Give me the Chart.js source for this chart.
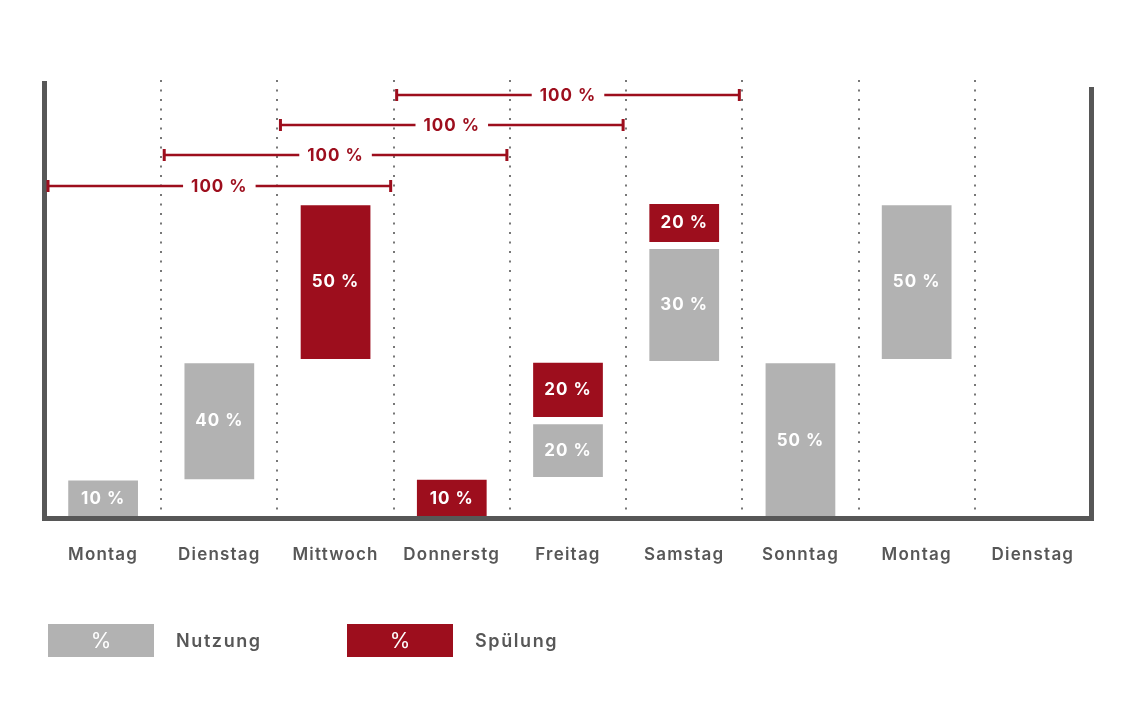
<!DOCTYPE html>
<html lang="de">
<head>
<meta charset="utf-8">
<title>Nutzung und Spülung</title>
<script src="https://cdn.jsdelivr.net/npm/chart.js@4.4.1/dist/chart.umd.min.js"></script>
<style>
  html, body { margin: 0; padding: 0; background: #fff; }
  #wrap { position: relative; width: 1140px; height: 708px; }
  #legende .eintrag { position: absolute; top: 624px; height: 33px; display: flex; align-items: center; font-family: Inter, sans-serif; }
  #legende .kasten { width: 106px; height: 33px; color: #fff; display: flex; align-items: center; justify-content: center; font-size: 21px; font-weight: 400; }
  #legende .text { margin-left: 22px; font-size: 18px; font-weight: 600; color: #575757; letter-spacing: 1.6px; }
</style>
</head>
<body>
<div id="wrap">
  <canvas id="chart"></canvas>
  <div id="legende"></div>
</div>
<script>
// Tage auf der x-Achse
const tage = ['Montag', 'Dienstag', 'Mittwoch', 'Donnerstg', 'Freitag', 'Samstag', 'Sonntag', 'Montag', 'Dienstag'];

// Balken als [von, bis], dazu die Beschriftung in %
const nutzung = [[0, 12], [12.4, 49.5], null, null, [13.1, 30], [50.2, 86], [0, 49.5], [50.8, 100], null];
const nutzungProzent = [10, 40, null, null, 20, 30, 50, 50, null];
const spuelung = [null, null, [50.8, 100], [0, 12.2], [32.3, 49.6], [88.2, 100.4], null, null, null];
const spuelungProzent = [null, null, 50, 10, 20, 20, null, null, null];

// 100%-Klammern über drei Tage
const klammerVon = [0, 1, 2, 3];
const klammerBis = [2, 3, 4, 5];
const klammerHoehe = [106.1, 116, 125.6, 135.2];
const klammerText = ['100 %', '100 %', '100 %', '100 %'];

const grau = '#b2b2b2';
const rot = '#9d0e1d';
const dunkel = '#575757';

// Beschriftung in den Balken
const balkenText = {
    id: 'balkenText',
    afterDatasetsDraw(chart) {
        const ctx = chart.ctx;
        ctx.save();
        ctx.font = '700 17px Inter';
        ctx.letterSpacing = '1px';
        ctx.fillStyle = '#fff';
        ctx.textAlign = 'center';
        ctx.textBaseline = 'middle';
        chart.data.datasets.forEach((ds, i) => {
            chart.getDatasetMeta(i).data.forEach((bar, j) => {
                const p = ds.prozent[j];
                if (p == null) return;
                const c = bar.getCenterPoint();
                ctx.fillText(p + ' %', c.x, c.y);
            });
        });
        ctx.restore();
    }
};

// Rahmen links, unten, rechts
const rahmen = {
    id: 'rahmen',
    afterDatasetsDraw(chart) {
        const {ctx, chartArea: a} = chart;
        ctx.save();
        ctx.strokeStyle = dunkel;
        ctx.lineWidth = 5;
        ctx.beginPath();
        ctx.moveTo(a.left - 0.5, a.top + 1);
        ctx.lineTo(a.left - 0.5, a.bottom + 0.5);
        ctx.lineTo(a.right + 0.5, a.bottom + 0.5);
        ctx.lineTo(a.right + 0.5, a.top + 7);
        ctx.stroke();
        ctx.restore();
    }
};

// Klammern mit "100 %"
const klammern = {
    id: 'klammern',
    afterDatasetsDraw(chart) {
        const {ctx, scales: {x, y}} = chart;
        const halb = (x.getPixelForValue(1) - x.getPixelForValue(0)) / 2;
        ctx.save();
        ctx.strokeStyle = rot;
        ctx.fillStyle = rot;
        ctx.font = '700 17px Inter';
        ctx.letterSpacing = '1px';
        ctx.textAlign = 'center';
        ctx.textBaseline = 'middle';
        klammerVon.forEach((von, k) => {
            const x1 = x.getPixelForValue(von) - halb + 3;
            const x2 = x.getPixelForValue(klammerBis[k]) + halb - 3;
            const yy = Math.round(y.getPixelForValue(klammerHoehe[k]));
            const mitte = (x1 + x2) / 2;
            const luecke = ctx.measureText(klammerText[k]).width / 2 + 8;
            ctx.lineWidth = 2.5;
            ctx.beginPath();
            ctx.moveTo(x1, yy);
            ctx.lineTo(mitte - luecke, yy);
            ctx.moveTo(mitte + luecke, yy);
            ctx.lineTo(x2, yy);
            ctx.stroke();
            ctx.lineWidth = 3;
            ctx.beginPath();
            ctx.moveTo(x1, yy - 6);
            ctx.lineTo(x1, yy + 6);
            ctx.moveTo(x2, yy - 6);
            ctx.lineTo(x2, yy + 6);
            ctx.stroke();
            ctx.fillText(klammerText[k], mitte, yy + 1);
        });
        ctx.restore();
    }
};

// Sperrung für die Achsenbeschriftung
const sperrung = {
    id: 'sperrung',
    beforeDraw(chart) {
        chart.ctx.letterSpacing = '1.2px';
    }
};

const ctx = document.getElementById('chart').getContext('2d');

const chart = new Chart(ctx, {
    type: 'bar',
    data: {
        labels: tage,
        datasets: [
            {
                label: 'Nutzung',
                data: nutzung,
                prozent: nutzungProzent,
                backgroundColor: grau,
                grouped: false,
                barPercentage: 0.6,
                categoryPercentage: 1
            },
            {
                label: 'Spülung',
                data: spuelung,
                prozent: spuelungProzent,
                backgroundColor: rot,
                grouped: false,
                barPercentage: 0.6,
                categoryPercentage: 1
            }
        ]
    },
    options: {
        responsive: true,
        maintainAspectRatio: false,
        animation: false,
        layout: {
            padding: { left: 45, right: 49, top: 80, bottom: 108 }
        },
        plugins: {
            legend: { display: false },
            tooltip: { enabled: false }
        },
        scales: {
            x: {
                grid: {
                    offset: true,
                    lineWidth: 2,
                    drawTicks: false,
                    // äußere Linien liegen unter dem Rahmen
                    color: c => (c.index === 0 || c.index === undefined || c.index >= tage.length) ? 'rgba(0,0,0,0)' : '#777'
                },
                border: { display: false, dash: [2, 7.5] },
                ticks: {
                    color: dunkel,
                    padding: 27,
                    font: { family: 'Inter', size: 17, weight: '600' }
                },
                afterFit(scale) {
                    scale.height = 82;
                }
            },
            y: {
                display: false,
                min: 0,
                max: 140
            }
        }
    },
    plugins: [sperrung, balkenText, rahmen, klammern]
});

// HTML-Legende aus den Datensätzen
const legendeLinks = [48, 347];
const legende = document.getElementById('legende');
chart.data.datasets.forEach((ds, i) => {
    const eintrag = document.createElement('div');
    eintrag.className = 'eintrag';
    eintrag.style.left = legendeLinks[i] + 'px';
    const kasten = document.createElement('div');
    kasten.className = 'kasten';
    kasten.style.background = ds.backgroundColor;
    kasten.textContent = '%';
    const text = document.createElement('div');
    text.className = 'text';
    text.textContent = ds.label;
    eintrag.appendChild(kasten);
    eintrag.appendChild(text);
    legende.appendChild(eintrag);
});
</script>
</body>
</html>
